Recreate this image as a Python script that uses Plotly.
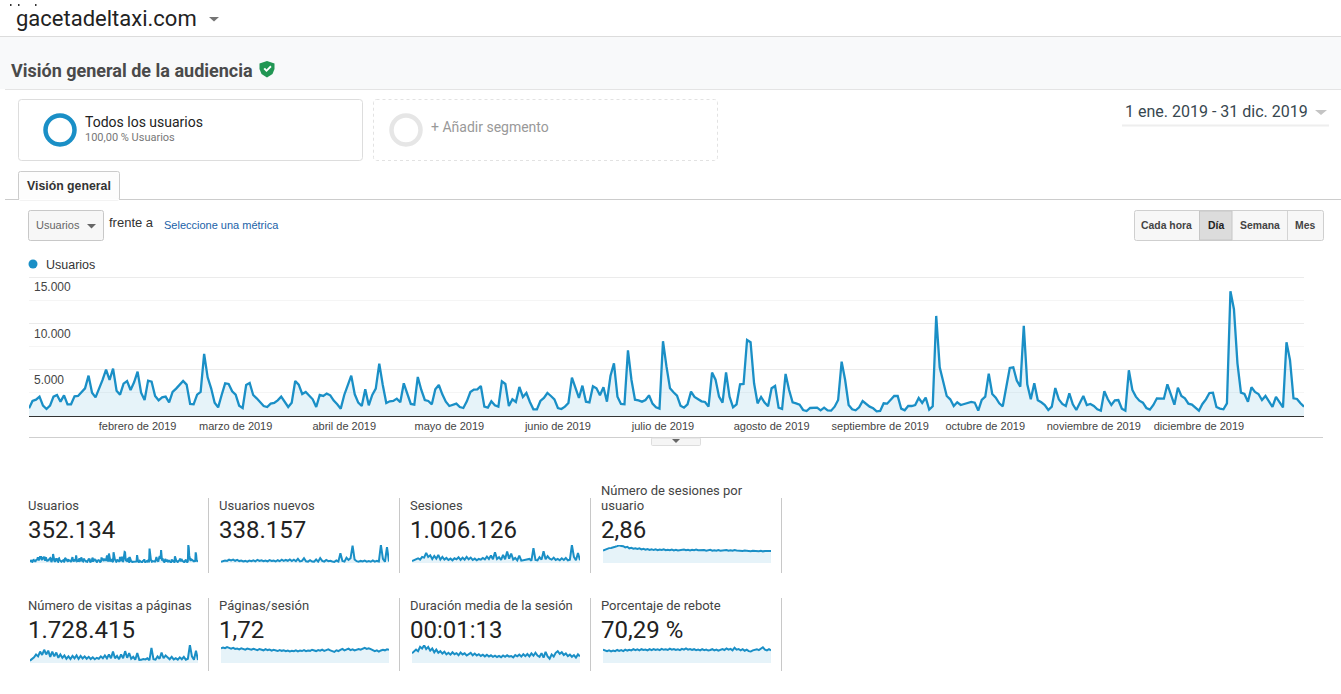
import pandas as pd
import plotly.graph_objects as go

W, H = 1341, 694
BLUE = "#1a8fc6"
FILL = "rgba(26,143,198,0.11)"

users = [
828,1620,1764,2088,1116,756,1116,2088,2268,1548,2232,1260,1260,2124,2160,2628,2988,4356,2520,2016,
2880,3888,5004,3888,5112,2736,2304,3492,3780,2808,3636,4788,2520,1728,3816,3708,2160,1692,2016,2088,
1476,2592,2952,3384,3780,3384,1296,1260,2304,2592,6696,4176,2988,1440,936,2268,3528,3456,2664,2304,
1116,864,3348,3564,2268,1908,1548,1080,972,1332,1404,1692,2088,1476,972,1440,3780,3384,2376,2592,
2232,1800,972,2268,2160,2412,2232,1656,1260,792,2268,3348,4356,2340,1440,1080,2880,1152,2268,2952,
5652,3348,1404,1584,1620,1872,1476,3528,2448,1296,1224,4212,2808,1728,1620,1260,2880,3348,2340,1548,
1080,1224,1332,972,
864,1584,2592,2844,2880,3240,1008,900,1584,1152,1008,3744,3456,1080,1800,1512,3132,2052,2484,1512,
720,720,1620,1944,2484,2160,1800,864,756,1008,1404,4140,2988,1944,3276,1548,1476,3204,2988,2232,
3096,1548,4320,5688,2088,1296,1260,7092,3888,1764,1692,1548,1728,2232,1332,936,792,8064,5328,2988,
2556,2196,1116,900,1260,2628,2052,1836,1584,1512,1008,4680,3924,2088,1440,4716,2088,936,1260,3420,
3456,8208,7956,3528,1368,2052,1440,1044,2988,3240,900,756,4536,2808,1476,1368,1224,648,540,864,
900,900,612,900,612,576,1008,1728,5868,3888,1188,720,612,936,1620,1332,1008,828,504,540,
1368,1332,1728,
2160,2160,792,612,1080,1080,1188,1944,1404,1980,684,1044,10800,5256,3528,2160,1800,1080,1476,1188,
1296,1404,1512,1440,576,1728,2088,4572,2376,1980,1368,1044,2988,5184,5256,3816,3168,9720,3420,1800,
3528,1692,1476,1188,648,1008,3024,1800,1296,1080,2448,1260,648,1440,2160,1188,1296,1080,720,576,
2664,1800,1188,1692,1728,792,576,4932,2808,2088,1656,1440,864,684,1188,1908,1908,1872,3420,2268,
1224,3060,2160,1908,1332,1224,936,576,1296,1800,2484,2520,972,792,720,1368,13464,11520,5688,2520,
2376,1548,3096,2592,2376,1728,2160,1512,972,2052,1512,936,7956,6048,1908,1836,1368,1008]

new_users = [900,1300,1800,1500,2400,1900,2500,1600,2200,1400,1800,1100,1500,1000,1700,1300,1900,1200,2300,1500,
2000,1300,1800,1200,2100,1500,1700,1100,2000,1300,2400,1500,2200,1600,2600,1400,2400,1300,3000,1200,
1500,3400,1200,1000,2000,1100,1000,2500,1000,3600,1500,1000,2200,1300,1600,1100,800,1800,1100,7000,
1500,1000,3800,2200,3500,12500,2600,1300,1000,1500,1100,1800,1000,1400,900,1900,1000,1500,1100,13000,
3000,900,11500,1000]
sessions = [1800,2400,3000,4200,3000,5400,4800,9000,5400,6900,3600,6300,3900,7200,3000,5400,3000,4500,2700,3900,
2400,4200,3300,5100,2700,4800,3000,5400,3300,4800,2700,3900,2400,3600,3000,4500,3300,5700,3600,6600,
3300,9600,3600,5100,2700,7200,3300,10200,3900,8400,3000,4500,2400,6600,2100,2400,3000,2700,3600,2100,
13200,2700,2400,5100,3000,10500,3300,6000,3900,3000,4800,2700,3600,2400,4200,2700,4500,2400,3000,16000,
5400,2400,8800,2400]
sessions_per_user = [2.9,3.1,3.3,3.45,3.5,3.7,3.75,3.9,4.1,3.95,3.9,3.6,3.75,3.4,3.5,3.3,3.4,3.25,3.4,3.15,
3.3,3.1,3.25,3.05,3.2,3.0,3.15,2.95,3.1,3.0,3.15,2.95,3.05,2.95,3.1,2.9,3.05,2.9,3.0,2.95,
3.1,2.95,3.05,2.9,3.05,2.95,3.1,2.95,3.0,2.9,3.0,2.85,2.95,3.05,2.85,2.95,2.85,3.0,2.85,2.95,
2.9,3.0,2.85,2.95,2.85,3.0,2.9,2.85,2.95,2.8,2.9,2.8,2.85,2.75,2.85,2.8,2.9,2.75,2.85,2.7,
2.8,2.85,2.75,2.8]
pageviews = [2500,4000,6000,9000,7000,12000,8500,14000,9000,13000,6500,12000,7000,11000,5500,9000,5500,8000,4500,7000,
4200,7500,5000,8000,4300,7500,4800,7000,4500,6500,4200,6000,4000,5500,4500,7000,5000,8000,5000,9000,
5000,12000,5000,7500,4000,9000,5000,12500,5500,10500,4500,6500,3500,10500,3300,3500,4200,3800,5000,3000,
16000,4000,3500,7000,4500,11000,5000,8000,5500,4000,6500,3800,5000,3500,6000,4000,6500,3500,4500,19000,
7000,3500,13000,3200]
pages_per_session = [2.0,2.1,2.0,2.15,2.05,1.95,2.05,1.9,1.95,1.85,1.98,1.88,1.8,1.95,1.85,1.8,1.92,1.82,1.75,1.9,
1.78,1.72,1.88,1.75,1.82,1.68,1.8,1.7,1.62,1.75,1.65,1.72,1.6,1.7,1.58,1.66,1.6,1.72,1.58,1.68,
1.62,1.74,1.6,1.7,1.65,1.8,1.68,1.62,1.76,1.66,1.8,1.65,1.75,1.85,1.7,1.6,1.5,1.72,1.62,1.78,
1.92,1.72,1.8,1.95,1.75,1.85,1.7,1.82,1.9,1.8,1.95,2.05,1.9,2.0,1.88,1.78,1.6,1.72,1.55,1.7,
1.8,1.72,1.85,1.78]
avg_duration = [90,105,125,110,150,135,165,130,150,115,135,100,125,95,110,88,105,80,95,78,
100,82,92,72,98,80,90,70,85,95,72,88,70,82,66,78,62,76,60,72,
58,68,56,66,54,70,58,72,60,65,52,74,62,78,60,82,64,84,62,90,
68,96,70,58,92,50,104,62,40,80,60,95,110,85,100,75,90,65,78,58,
74,50,80,62]
bounce_rate = [70,66,62,66,61,65,62,68,63,67,62,70,65,69,66,72,67,71,66,72,
68,70,66,72,67,73,68,71,67,74,69,72,68,75,70,73,68,71,67,74,
70,76,70,73,68,72,67,70,66,72,67,70,65,68,72,66,70,64,68,73,
68,76,70,74,66,80,70,73,66,72,64,70,62,60,66,70,72,67,74,82,
70,66,72,66]

assert len(users) == 365, len(users)

month_starts = ["2019-02-01","2019-03-01","2019-04-01","2019-05-01","2019-06-01","2019-07-01",
                "2019-08-01","2019-09-01","2019-10-01","2019-11-01","2019-12-01"]
month_labels = ["febrero de 2019","marzo de 2019","abril de 2019","mayo de 2019","junio de 2019","julio de 2019",
                "agosto de 2019","septiembre de 2019","octubre de 2019","noviembre de 2019","diciembre de 2019"]
y_ticks = [5000, 10000, 15000]
y_minor = [2500, 7500, 12500]

metric_names = ["Usuarios","Usuarios nuevos","Sesiones","Número de sesiones por<br>usuario",
                "Número de visitas a páginas","Páginas/sesión","Duración media de la sesión","Porcentaje de rebote"]
metric_values = ["352.134","338.157","1.006.126","2,86","1.728.415","1,72","00:01:13","70,29 %"]
metric_series = [users,new_users,sessions,sessions_per_user,pageviews,pages_per_session,avg_duration,bounce_rate]
metric_tops = [13464,13000,16000,4.17,19000,2.44,168,94]

def px(x): return x / W
def py(y): return 1 - y / H
def dates(n): return pd.date_range("2019-01-01", "2019-12-31", periods=n)

shapes, notes = [], []

def rect(x0, y0, x1, y1, fill=None, line=None, lw=1, dash=None):
    shapes.append(dict(type="rect", xref="paper", yref="paper", x0=px(x0), x1=px(x1), y0=py(y0), y1=py(y1),
                       fillcolor=fill or "rgba(0,0,0,0)", line=dict(color=line or "rgba(0,0,0,0)", width=lw if line else 0, dash=dash),
                       layer="below"))
def path(points, fill, close=True):
    d = "M " + " L ".join(f"{px(x):.6f},{py(y):.6f}" for x, y in points) + (" Z" if close else "")
    shapes.append(dict(type="path", xref="paper", yref="paper", path=d, fillcolor=fill, line=dict(width=0), layer="above"))
def rrect(x0, y0, x1, y1, r, fill, line, dash=None, lw=1):
    P = lambda x, y: f"{px(x):.6f},{py(y):.6f}"
    d = (f"M {P(x0+r,y0)} L {P(x1-r,y0)} Q {P(x1,y0)} {P(x1,y0+r)} L {P(x1,y1-r)} Q {P(x1,y1)} {P(x1-r,y1)} "
         f"L {P(x0+r,y1)} Q {P(x0,y1)} {P(x0,y1-r)} L {P(x0,y0+r)} Q {P(x0,y0)} {P(x0+r,y0)} Z")
    shapes.append(dict(type="path", xref="paper", yref="paper", path=d, fillcolor=fill,
                       line=dict(color=line, width=lw, dash=dash), layer="below"))
def hline(x0, x1, y, color, lw=1):
    shapes.append(dict(type="line", xref="paper", yref="paper", x0=px(x0), x1=px(x1), y0=py(y), y1=py(y),
                       line=dict(color=color, width=lw), layer="below"))
def vline(x, y0, y1, color, lw=1):
    shapes.append(dict(type="line", xref="paper", yref="paper", x0=px(x), x1=px(x), y0=py(y0), y1=py(y1),
                       line=dict(color=color, width=lw), layer="below"))
def ring(cx, cy, r, color, lw):
    shapes.append(dict(type="circle", xref="paper", yref="paper", x0=px(cx-r), x1=px(cx+r), y0=py(cy+r), y1=py(cy-r),
                       line=dict(color=color, width=lw), layer="above"))
def text(x, y, s, size, color, family="Roboto", anchor="left", valign="middle"):
    notes.append(dict(xref="paper", yref="paper", x=px(x), y=py(y), text=s, showarrow=False, xanchor=anchor, yanchor=valign,
                      align=anchor if anchor != "middle" else "center", font=dict(size=size, color=color, family=family),
                      xshift=0, yshift=0, borderpad=0, borderwidth=0))

# page header
rect(0, 37, W, 89, fill="#f8f9fa")
hline(0, W, 36.5, "#dcdcdc")
hline(5, W, 89.5, "#e4e4e4")
for mark_x in (10, 18, 35):
    rect(mark_x, 4, mark_x + 1.5, 6, fill="#333333")
text(16, 18, "gacetadeltaxi.com", 22, "#222222")
path([(209, 17), (219, 17), (214, 21.5)], "#757575")
text(11, 70, "<b>Visión general de la audiencia</b>", 18, "#4a4a4a")
path([(267, 61), (274.5, 63.5), (274.5, 69), (272.5, 74), (267, 77.5), (261.5, 74), (259.5, 69), (259.5, 63.5)], "#219653")
path([(263.5, 69), (265, 67.7), (266.5, 69.4), (270.3, 65.6), (271.6, 66.9), (266.5, 72)], "#ffffff")

# segments
rrect(18.5, 99.5, 362.5, 160.5, 3, "#ffffff", "#dddddd")
ring(60, 130, 14.5, BLUE, 4.5)
text(85, 122.5, "Todos los usuarios", 14, "#222222")
text(85, 137.5, "100,00 % Usuarios", 11, "#777777")
rrect(373.5, 99.5, 717.5, 160.5, 3, "#ffffff", "#e2e2e2", dash="3px,3px")
ring(406, 130, 14.5, "#e6e6e6", 4.5)
text(431, 127.5, "+ Añadir segmento", 14, "#999999")
text(1125, 111.5, "1 ene. 2019 - 31 dic. 2019", 16, "#37474f")
path([(1315, 110), (1327, 110), (1321, 115)], "#c4c4c4")
hline(1122, 1329, 125.5, "#eeeeee", 2)

# tab
hline(5, W, 199.5, "#cccccc")
rrect(18.5, 171.5, 119.5, 200, 2, "#fdfdfd", "#cccccc")
hline(19, 119, 199.8, "#ffffff", 1.5)
text(27, 185.5, "<b>Visión general</b>", 12.3, "#333333", "Liberation Sans")

# metric selector
rrect(28.5, 210.5, 103.5, 240.5, 2, "#f7f7f7", "#c8c8c8")
text(36, 225, "Usuarios", 11, "#666666", "Liberation Sans")
path([(87, 224), (96, 224), (91.5, 228.5)], "#666666")
text(108.5, 222.5, "frente a", 13, "#333333", "Liberation Sans")
text(164, 225, "Seleccione una métrica", 11, "#1a62a8", "Liberation Sans")

# granularity buttons
rrect(1134.5, 210.5, 1323.5, 240.5, 2, "#f7f7f7", "#cfcfcf")
rect(1199.5, 211, 1232, 240, fill="#dcdcdc", line="#c6c6c6")
vline(1287.5, 211, 240, "#d4d4d4")
for cx, lbl, col in [(1166.5, "Cada hora", "#444444"), (1215.5, "Día", "#222222"), (1260, "Semana", "#444444"), (1305, "Mes", "#444444")]:
    text(cx, 225.5, f"<b>{lbl}</b>", 10.4, col, "Liberation Sans", anchor="center")

# legend of the main chart
shapes.append(dict(type="circle", xref="paper", yref="paper", x0=px(28.5), x1=px(37.5), y0=py(268.5), y1=py(259.5),
                   fillcolor=BLUE, line=dict(width=0), layer="above"))
text(46, 264.5, "Usuarios", 12.5, "#333333", "Liberation Sans")

# top gridline of the main chart, at the very edge of the plot area
hline(29, 1304, 277.5, "#ebebeb")

# rule below the chart and the collapse tab
hline(29, 1323, 437.5, "#cfcfcf")
rrect(651.5, 438, 700.5, 445.5, 1, "#f5f5f5", "#dddddd")
path([(672, 439), (680, 439), (676, 443)], "#666666")

fig = go.Figure()
fig.add_trace(go.Scatter(x=dates(len(users)), y=users, mode="lines", line=dict(color=BLUE, width=2.3, shape="linear"),
                         fill="tozeroy", fillcolor=FILL, name="Usuarios", showlegend=False))

layout = dict(
    width=W, height=H, margin=dict(l=0, r=0, t=0, b=0), autosize=False,
    paper_bgcolor="#ffffff", plot_bgcolor="rgba(0,0,0,0)", separators=",.", showlegend=False,
    xaxis=dict(domain=[px(29), px(1304)], anchor="y", type="date", range=["2019-01-01", "2019-12-31"],
               tickmode="array", tickvals=month_starts, ticktext=month_labels, ticks="", showgrid=False, zeroline=False,
               showline=True, linecolor="#333333", linewidth=1, tickangle=0,
               tickfont=dict(family="Liberation Sans", size=11, color="#444444"), ticklabelstandoff=0),
    yaxis=dict(domain=[py(416), py(277)], anchor="x", range=[0, 15000], tickmode="array", tickvals=y_ticks,
               tickformat=",d", showgrid=True, gridcolor="#ebebeb", gridwidth=1, zeroline=False, showline=False, ticks="",
               ticklabelposition="inside", ticklabelshift=10, ticklabelstandoff=2,
               tickfont=dict(family="Liberation Sans", size=12, color="#444444"),
               minor=dict(tickmode="array", tickvals=y_minor, showgrid=True, gridcolor="#f5f5f5", gridwidth=1, ticks="")),
)

# metric tiles
cols = [(28, 30, 208), (219, 221, 399), (410, 412, 590), (601, 603, 781)]
rows = [(505, 530, 563, 545, 498, 573), (605, 630, 663, 645, 598, 671)]
for k in range(8):
    r, c = rows[k // 4], cols[k % 4]
    name = metric_names[k]
    if "<br>" in name:
        first, second = name.split("<br>")
        text(c[0], r[0] - 14.5, first, 13, "#444444")
        text(c[0], r[0], second, 13, "#444444")
    else:
        text(c[0], r[0], name, 13, "#444444")
    text(c[0], r[1], metric_values[k], 24, "#222222")
    vline(c[2] + 0.5, r[4], r[5], "#c8c8c8")
    ax = k + 2
    series = metric_series[k]
    fig.add_trace(go.Scatter(x=dates(len(series)), y=series, xaxis=f"x{ax}", yaxis=f"y{ax}", mode="lines",
                             line=dict(color=BLUE, width=2), fill="tozeroy", fillcolor=FILL, showlegend=False))
    layout[f"xaxis{ax}"] = dict(domain=[px(c[1]), px(c[1] + 168)], anchor=f"y{ax}", visible=False, type="date",
                                range=["2019-01-01", "2019-12-31"])
    layout[f"yaxis{ax}"] = dict(domain=[py(r[2]), py(r[3])], anchor=f"x{ax}", visible=False, range=[0, metric_tops[k]])

fig.update_layout(**layout, shapes=shapes, annotations=notes)
fig.write_html("out.html", config={"displayModeBar": False},
               post_script="document.body.style.margin='0';document.body.style.overflow='hidden';")
